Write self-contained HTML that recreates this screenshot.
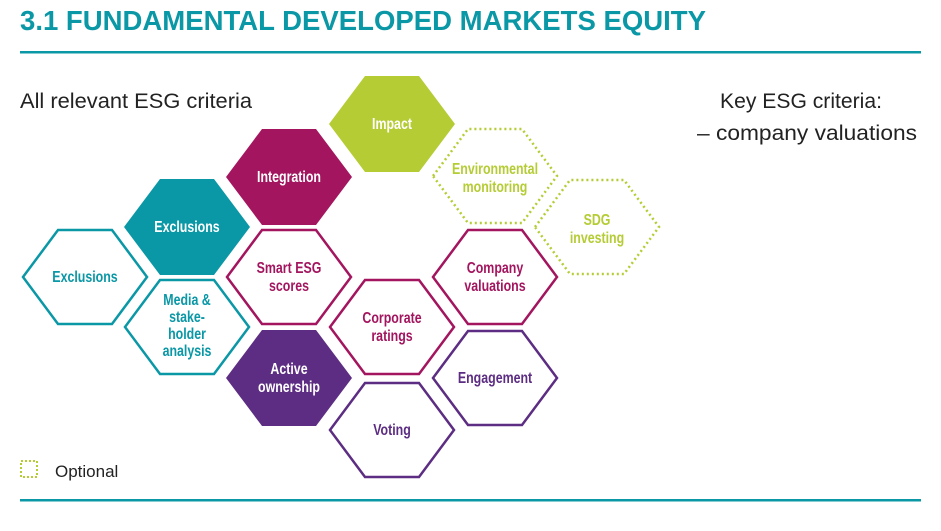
<!DOCTYPE html>
<html><head><meta charset="utf-8"><style>
html,body{margin:0;padding:0;background:#fff;width:941px;height:531px;overflow:hidden}
svg text{font-family:"Liberation Sans Narrow","Liberation Sans",sans-serif}
</style></head><body>
<svg width="941" height="531" viewBox="0 0 941 531" xmlns="http://www.w3.org/2000/svg">
<defs>
<polygon id="hx" points="-63,0 -27,-48 27,-48 63,0 27,48 -27,48"/>
<polygon id="ho" points="-62,0 -27,-47 27,-47 62,0 27,47 -27,47"/>
</defs>
<text x="20" y="30" font-size="28" font-weight="bold" fill="#0a97a6" textLength="686" lengthAdjust="spacingAndGlyphs">3.1 FUNDAMENTAL DEVELOPED MARKETS EQUITY</text>
<rect x="20" y="51" width="901" height="2.5" fill="#0a97a6"/>
<rect x="20" y="499" width="901" height="2.5" fill="#0a97a6"/>
<text x="20" y="108" font-size="21" fill="#222" textLength="232" lengthAdjust="spacingAndGlyphs">All relevant ESG criteria</text>
<text x="720" y="108" font-size="21" fill="#222" textLength="162" lengthAdjust="spacingAndGlyphs">Key ESG criteria:</text>
<text x="697" y="140" font-size="21" fill="#222" textLength="220" lengthAdjust="spacingAndGlyphs">–  company valuations</text>
<rect x="21" y="461" width="16" height="16" fill="none" stroke="#b5cc34" stroke-width="2" stroke-dasharray="2,2"/>
<text x="55" y="477" font-size="17" fill="#222">Optional</text>

<g font-weight="bold" font-size="15.5" text-anchor="middle">
<g transform="translate(392,124)"><use href="#hx" fill="#b5cc34"/><g transform="scale(0.8,1)"><text y="5" fill="#fff">Impact</text></g></g>
<g transform="translate(289,177)"><use href="#hx" fill="#a3155e"/><g transform="scale(0.8,1)"><text y="5" fill="#fff">Integration</text></g></g>
<g transform="translate(187,227)"><use href="#hx" fill="#0a97a6"/><g transform="scale(0.8,1)"><text y="5" fill="#fff">Exclusions</text></g></g>
<g transform="translate(289,378)"><use href="#hx" fill="#5c2d82"/><g transform="scale(0.8,1)"><text y="-4" fill="#fff">Active</text><text y="14" fill="#fff">ownership</text></g></g>
<g transform="translate(495,176)"><use href="#ho" fill="none" stroke="#b5cc34" stroke-width="2.5" stroke-dasharray="2,3"/><g transform="scale(0.8,1)"><text y="-2" fill="#b5cc34">Environmental</text><text y="16" fill="#b5cc34">monitoring</text></g></g>
<g transform="translate(597,227)"><use href="#ho" fill="none" stroke="#b5cc34" stroke-width="2.5" stroke-dasharray="2,3"/><g transform="scale(0.8,1)"><text y="-2" fill="#b5cc34">SDG</text><text y="16" fill="#b5cc34">investing</text></g></g>
<g transform="translate(85,277)"><use href="#ho" fill="none" stroke="#0a97a6" stroke-width="2.5"/><g transform="scale(0.8,1)"><text y="5" fill="#0a97a6">Exclusions</text></g></g>
<g transform="translate(187,327)"><use href="#ho" fill="none" stroke="#0a97a6" stroke-width="2.5"/><g transform="scale(0.8,1)"><text y="-22" fill="#0a97a6">Media &amp;</text><text y="-5" fill="#0a97a6">stake-</text><text y="12" fill="#0a97a6">holder</text><text y="29" fill="#0a97a6">analysis</text></g></g>
<g transform="translate(289,277)"><use href="#ho" fill="none" stroke="#a3155e" stroke-width="2.5"/><g transform="scale(0.8,1)"><text y="-4" fill="#a3155e">Smart ESG</text><text y="14" fill="#a3155e">scores</text></g></g>
<g transform="translate(495,277)"><use href="#ho" fill="none" stroke="#a3155e" stroke-width="2.5"/><g transform="scale(0.8,1)"><text y="-4" fill="#a3155e">Company</text><text y="14" fill="#a3155e">valuations</text></g></g>
<g transform="translate(392,327)"><use href="#ho" fill="none" stroke="#a3155e" stroke-width="2.5"/><g transform="scale(0.8,1)"><text y="-4" fill="#a3155e">Corporate</text><text y="14" fill="#a3155e">ratings</text></g></g>
<g transform="translate(495,378)"><use href="#ho" fill="none" stroke="#5c2d82" stroke-width="2.5"/><g transform="scale(0.8,1)"><text y="5" fill="#5c2d82">Engagement</text></g></g>
<g transform="translate(392,430)"><use href="#ho" fill="none" stroke="#5c2d82" stroke-width="2.5"/><g transform="scale(0.8,1)"><text y="5" fill="#5c2d82">Voting</text></g></g>
</g>
</svg>
</body></html>
